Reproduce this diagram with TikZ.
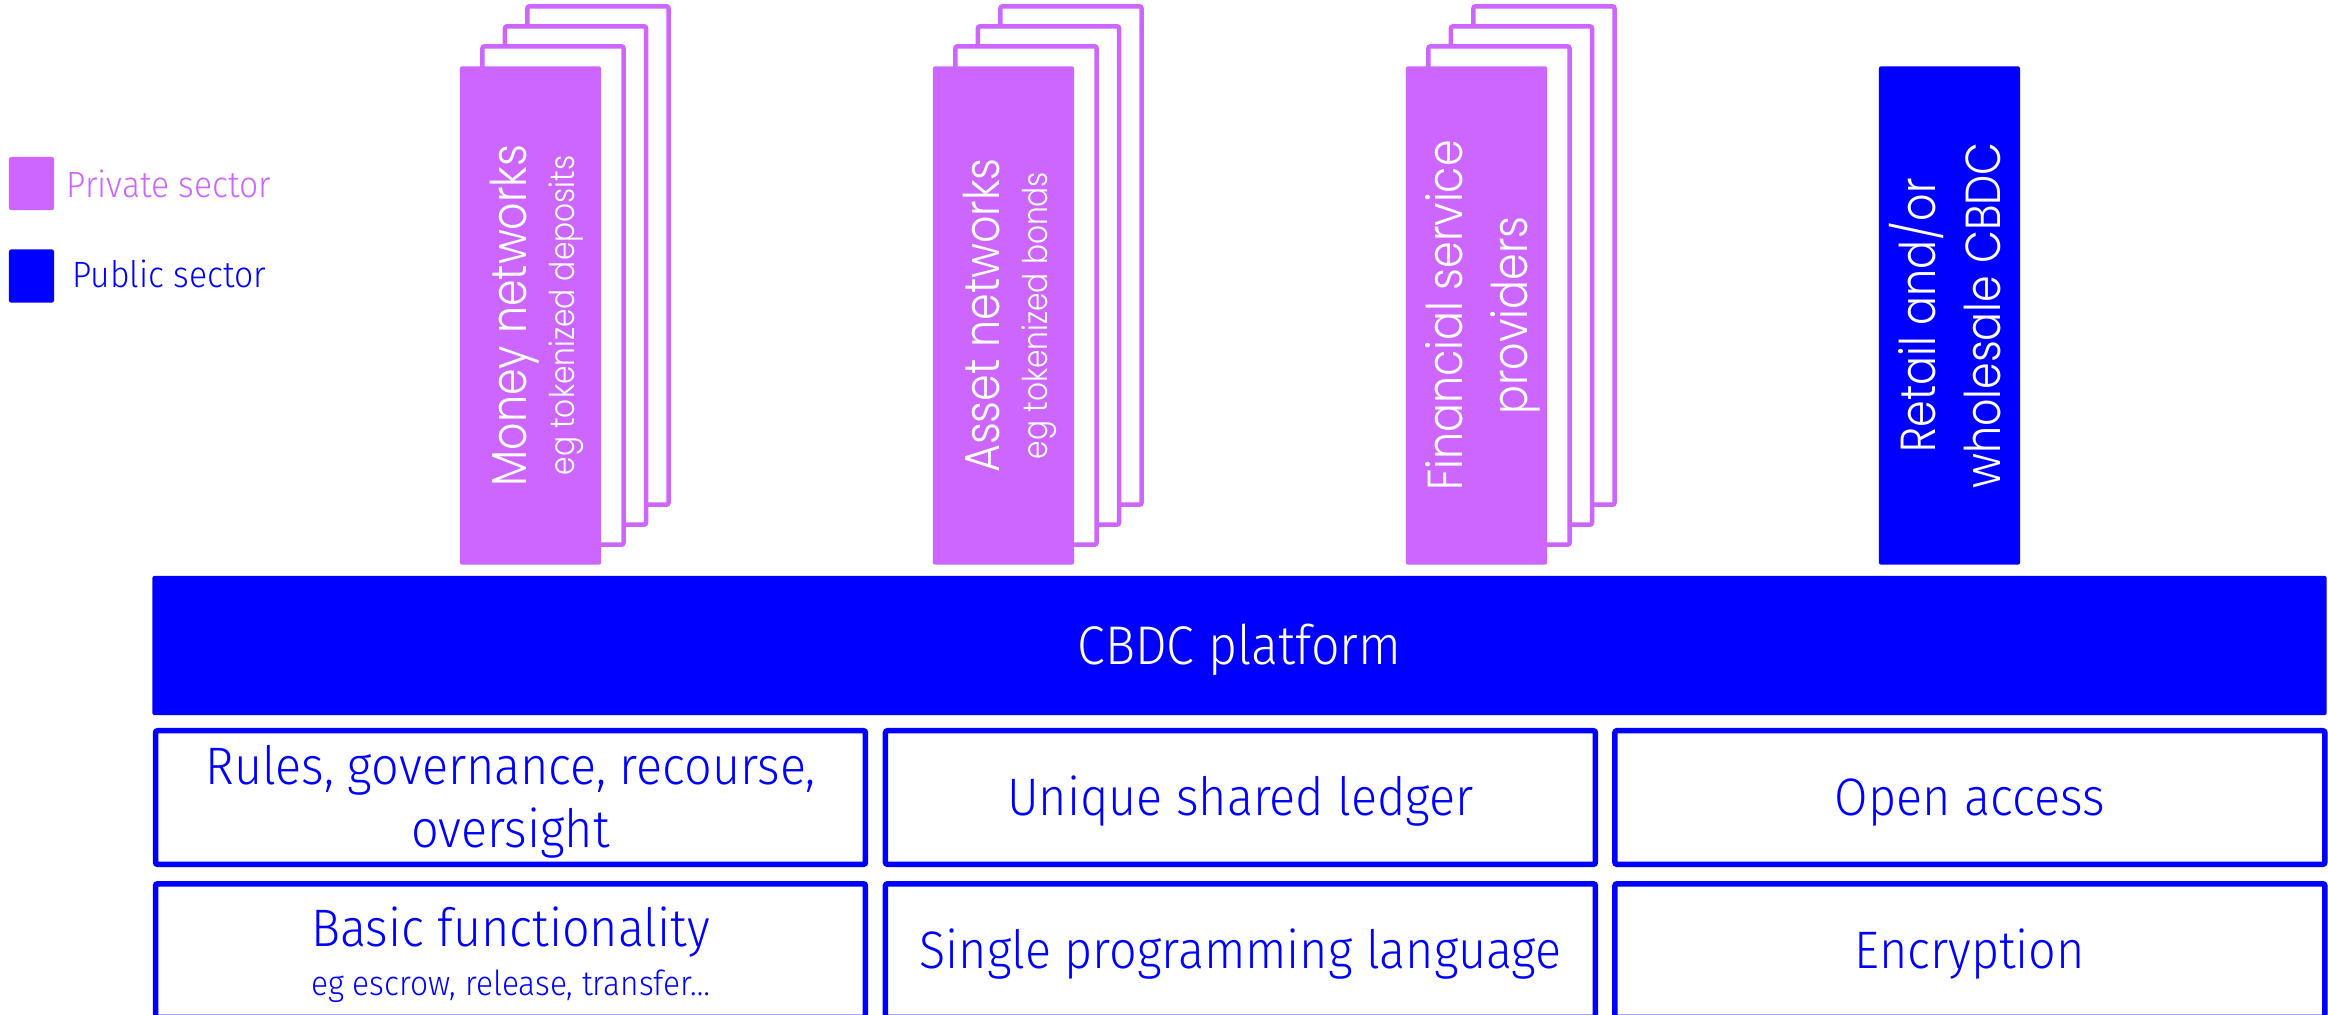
\documentclass[tikz,border=0pt]{standalone}
\usepackage{fontspec}
\setmainfont[FakeStretch=0.92]{Fira Sans Light}
\newfontfamily\geofont[FakeStretch=0.87]{Poppins Light}
\usepackage{xcolor}
\usetikzlibrary{positioning, backgrounds}
\definecolor{cbpink}{RGB}{204, 102, 255}
\definecolor{cbblue}{RGB}{0, 0, 255}
\tikzset{
    frontbox/.style={rectangle, rounded corners=0.02cm, minimum width=1.41cm, minimum height=4.98cm, inner sep=0pt, outer sep=0pt},
    privbox/.style={frontbox, fill=cbpink},
    pubbox/.style={frontbox, fill=cbblue},
    sheet/.style={draw=cbpink, line width=0.045cm, fill=white, rounded corners=0.02cm},
    vmain/.style={rotate=90, anchor=base, inner sep=0pt, text=white, font=\geofont\fontsize{14}{17}\selectfont},
    vsub/.style={vmain, font=\geofont\fontsize{9.7}{11}\selectfont},
    platbox/.style={rectangle, fill=cbblue, rounded corners=0.02cm, minimum width=21.73cm, minimum height=1.39cm, text=white, text height=14.4pt, text depth=3.6pt, font=\fontsize{15.5}{18}\selectfont},
    featbox/.style={rectangle, draw=cbblue, line width=0.055cm, rounded corners=0.02cm, minimum width=7.095cm, minimum height=1.335cm, text=cbblue, text height=14pt, text depth=3.6pt, font=\fontsize{15}{17.9}\selectfont},
    feattext/.style={inner sep=0pt, anchor=base, text=cbblue, font=\fontsize{15}{17.9}\selectfont},
    legbox/.style={rectangle, rounded corners=0.02cm, minimum width=0.45cm, minimum height=0.53cm, inner sep=0pt},
    legtext/.style={anchor=base west, inner sep=0pt, font=\fontsize{10.4}{12}\selectfont}
}
\begin{document}
\begin{tikzpicture}[x=0.01cm, y=-0.01cm]
    \useasboundingbox (0,0) rectangle (2328,1014);
    \clip (0,0) rectangle (2328,1014);

    % legend
    \node[legbox, fill=cbpink] (privkey) at (31.5,183.5) {};
    \node[legbox, fill=cbblue] (pubkey) at (31.5,276) {};
    \node[legtext, text=cbpink] (privlab) at (66,197) {Private sector};
    \node[legtext, text=cbblue] (publab) at (72,287) {Public sector};

    % columns on top of the platform
    \node[privbox] (money) at (530.5,315.5) {};
    \node[privbox, right=3.317cm of money] (asset) {};
    \node[privbox, right=3.317cm of asset] (fsp) {};
    \node[pubbox, right=3.317cm of fsp] (retail) {};

    \node[vmain] (moneyT) at ([xshift=-0.04cm]money.center) {Money networks};
    \node[vsub] (moneyS) at ([xshift=0.44cm]money.center) {eg tokenized deposits};
    \node[vmain] (assetT) at ([xshift=-0.04cm]asset.center) {Asset networks};
    \node[vsub] (assetS) at ([xshift=0.44cm]asset.center) {eg tokenized bonds};
    \node[vmain] (fspT) at ([xshift=-0.135cm]fsp.center) {Financial service};
    \node[vmain] (fspS) at ([xshift=0.51cm]fsp.center) {providers};
    \node[vmain] (retailT) at ([xshift=-0.135cm]retail.center) {Retail and/or};
    \node[vmain] (retailS) at ([xshift=0.51cm]retail.center) {wholesale CBDC};

    % stacked sheets behind the private columns
    \begin{scope}[on background layer]
        \fill[white] (0,0) rectangle (2328,1014);
        \foreach \col in {money, asset, fsp}
            \foreach \k in {3,2,1}
                \draw[sheet] ([shift={(\k*22.5,-\k*20)}]\col.south west) rectangle ([shift={(\k*22.5,-\k*20)}]\col.north east);
    \end{scope}

    % platform
    \node[platbox] (platform) at (1239.5,645.5) {CBDC platform};

    % building blocks
    \node[featbox] (rules) at (510.5,797.5) {};
    \node[featbox, right=0.145cm of rules] (ledger) {Unique shared ledger};
    \node[featbox, right=0.14cm of ledger] (access) {Open access};
    \node[featbox, below=0.14cm of rules] (basic) {};
    \node[featbox, below=0.14cm of ledger] (lang) {Single programming language};
    \node[featbox, below=0.14cm of access] (crypt) {Encryption};
    \node[feattext] (rulesT) at ([yshift=0.135cm]rules.center) {Rules, governance, recourse,};
    \node[feattext] (rulesS) at ([yshift=-0.495cm]rules.center) {oversight};
    \node[feattext] (basicT) at ([yshift=0.045cm]basic.center) {Basic functionality};
    \node[feattext, font=\fontsize{9.8}{11}\selectfont] (basicS) at ([yshift=-0.445cm]basic.center) {eg escrow, release, transfer…};
\end{tikzpicture}
\end{document}
